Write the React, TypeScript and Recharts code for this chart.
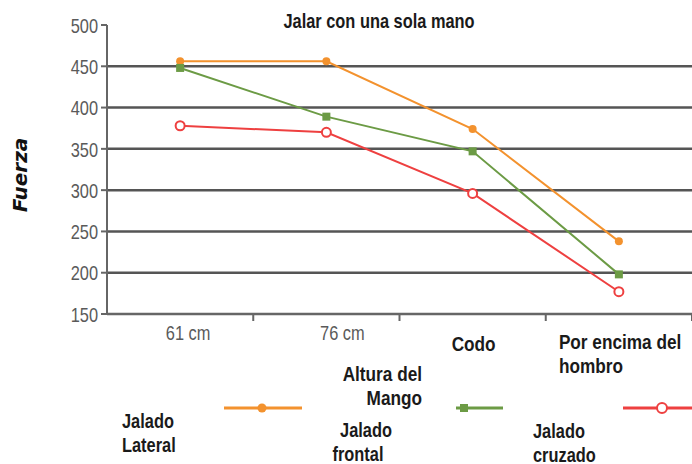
import React from 'react'
import { LineChart, Line, XAxis, YAxis, CartesianGrid } from 'recharts'

const categories = ['61 cm', '76 cm', 'Codo', 'Por encima del hombro']
const lateral = [456, 456, 374, 238]
const frontal = [448, 389, 347, 198]
const cruzado = [378, 370, 296, 177]
const yTicks = [150, 200, 250, 300, 350, 400, 450, 500]
const gridValues = [200, 250, 300, 350, 400, 450]

const tickLabels = [['61 cm'], ['76 cm'], ['Codo'], ['Por encima del', 'hombro']]
const title = 'Jalar con una sola mano'
const yTitle = 'Fuerza'
const xTitle = ['Altura del', 'Mango']
const seriesNames = [['Jalado', 'Lateral'], ['Jalado', 'frontal'], ['Jalado', 'cruzado']]

const ORANGE = '#F3922E'
const GREEN = '#6C9B45'
const RED = '#EE4040'
const SANS = '"Liberation Sans", Arial, sans-serif'
const SQUEEZE = 0.82

const data = categories.map((c, i) => ({
  cat: c,
  lateral: lateral[i],
  frontal: frontal[i],
  cruzado: cruzado[i],
}))

// narrow text: the original uses a condensed face, so squash Liberation Sans
function NText({ x, y, lines, anchor = 'start', size = 20, bold = true, fill = '#1a1a1a', lh = 24, offsets }: any) {
  return (
    <g transform={`translate(${x},${y}) scale(${SQUEEZE},1)`}>
      <text
        x={0}
        y={0}
        textAnchor={anchor}
        dominantBaseline="central"
        fontFamily={SANS}
        fontSize={size}
        fontWeight={bold ? 'bold' : 'normal'}
        fill={fill}
      >
        {lines.map((l: string, k: number) => (
          <tspan key={k} x={offsets ? offsets[k] / SQUEEZE : 0} dy={k === 0 ? 0 : lh}>{l}</tspan>
        ))}
      </text>
    </g>
  )
}

// per-category label look (the original mixes two label styles)
const tickLook = [
  { dx: 8, dy: 18, anchor: 'middle', bold: false },
  { dx: 16, dy: 18, anchor: 'middle', bold: false },
  { dx: 1, dy: 29, anchor: 'middle', bold: true },
  { dx: -60, dy: 27, anchor: 'start', bold: true },
]

function XTick(props: any) {
  const { x, y, payload, index } = props
  const look = tickLook[index] || tickLook[0]
  const half = payload.offset || 0
  const lines = tickLabels[index] || [payload.value]
  return (
    <g>
      <line x1={x + half} x2={x + half} y1={y} y2={y + 7} stroke="#666" strokeWidth={2} />
      <NText
        x={x + look.dx}
        y={y + look.dy}
        lines={lines}
        anchor={look.anchor}
        size={look.bold ? 21 : 20}
        bold={look.bold}
        fill={look.bold ? '#1a1a1a' : '#5a5a5a'}
      />
    </g>
  )
}

function YTick(props: any) {
  const { x, y, payload } = props
  return <NText x={x} y={y} lines={[String(payload.value)]} anchor="end" bold={false} fill="#5a5a5a" />
}

function SquareDot(props: any) {
  const { cx, cy } = props
  if (cx == null || cy == null) return null
  return <rect x={cx - 4} y={cy - 4} width={8} height={8} fill={GREEN} />
}

export default function App() {
  return (
    <div style={{ position: 'relative', width: 692, height: 464, background: '#fff' }}>
      <style>{'body{margin:0}'}</style>
      <LineChart width={692} height={464} data={data} margin={{ top: 25, right: 0, left: 47, bottom: 0 }}>
        <CartesianGrid vertical={false} horizontalValues={gridValues} stroke="#555" strokeWidth={2.5} />
        <XAxis
          dataKey="cat"
          scale="band"
          height={150}
          tickSize={0}
          tickMargin={0}
          tickLine={false}
          axisLine={{ stroke: '#666', strokeWidth: 2.5 }}
          tick={<XTick />}
          interval={0}
        />
        <YAxis
          width={60}
          domain={[150, 500]}
          ticks={yTicks}
          interval={0}
          tickSize={6}
          tickMargin={3}
          axisLine={{ stroke: '#666', strokeWidth: 2 }}
          tickLine={{ stroke: '#666', strokeWidth: 2 }}
          tick={<YTick />}
        />
        <Line
          dataKey="lateral"
          stroke={ORANGE}
          strokeWidth={2}
          dot={{ r: 4, fill: ORANGE, stroke: ORANGE, strokeWidth: 0 }}
          isAnimationActive={false}
        />
        <Line
          dataKey="frontal"
          stroke={GREEN}
          strokeWidth={2}
          dot={<SquareDot />}
          isAnimationActive={false}
        />
        <Line
          dataKey="cruzado"
          stroke={RED}
          strokeWidth={2}
          dot={{ r: 4.5, fill: '#fff', stroke: RED, strokeWidth: 2 }}
          isAnimationActive={false}
        />
      </LineChart>
      <svg width={692} height={464} style={{ position: 'absolute', left: 0, top: 0, pointerEvents: 'none' }}>
        <NText x={379} y={20} lines={[title]} anchor="middle" />
        <text
          transform="translate(20,175) rotate(-90)"
          textAnchor="middle"
          dominantBaseline="central"
          fontFamily='"DejaVu Sans", sans-serif'
          fontWeight="bold"
          fontStyle="italic"
          fontSize={20}
          fill="#111"
        >
          {yTitle}
        </text>
        <NText x={422} y={373} lines={xTitle} anchor="end" size={21} />

        <line x1={224} x2={302} y1={408} y2={408} stroke={ORANGE} strokeWidth={3} />
        <circle cx={262} cy={408} r={4.5} fill={ORANGE} />
        <NText x={122} y={420} lines={seriesNames[0]} />

        <line x1={456} x2={503} y1={408} y2={408} stroke={GREEN} strokeWidth={3} />
        <rect x={460} y={404} width={8} height={8} fill={GREEN} />
        <NText x={362} y={429} lines={seriesNames[1]} anchor="middle" offsets={[4, -4]} />

        <line x1={623} x2={692} y1={408} y2={408} stroke={RED} strokeWidth={3} />
        <circle cx={662} cy={408} r={5} fill="#fff" stroke={RED} strokeWidth={2} />
        <NText x={533} y={430} lines={seriesNames[2]} />
      </svg>
    </div>
  )
}
